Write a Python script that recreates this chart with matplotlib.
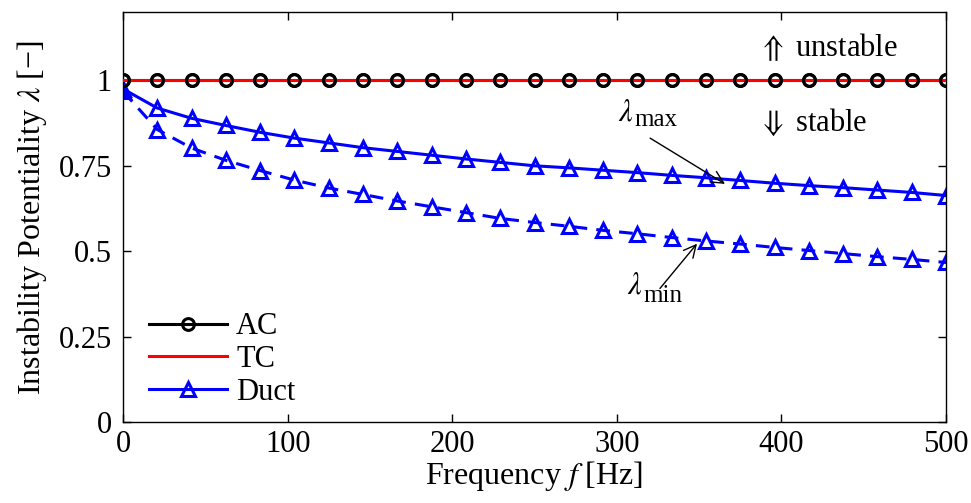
import numpy as np
import matplotlib
matplotlib.use("Agg")
import matplotlib.pyplot as plt
from matplotlib.ticker import FixedLocator, FixedFormatter

plt.rcParams['font.family'] = ['Liberation Serif', 'DejaVu Serif']
plt.rcParams['mathtext.fontset'] = 'stix'
plt.rcParams['font.size'] = 22

# Frequency grid [Hz]
freq = np.linspace(0, 500, 25)

# Instability potentiality per element
ac = [1.0] * 25
tc = [1.0] * 25
duct_max = [0.975, 0.919, 0.889, 0.868, 0.848, 0.831, 0.817, 0.803, 0.792,
            0.781, 0.770, 0.760, 0.750, 0.744, 0.737, 0.730, 0.722, 0.715,
            0.707, 0.699, 0.692, 0.686, 0.679, 0.672, 0.663]
duct_min = [0.968, 0.856, 0.802, 0.766, 0.736, 0.708, 0.685, 0.666, 0.647,
            0.630, 0.613, 0.596, 0.584, 0.573, 0.561, 0.551, 0.540, 0.530,
            0.521, 0.511, 0.502, 0.493, 0.484, 0.476, 0.467]

xticks = [0, 100, 200, 300, 400, 500]
yticks = [0, 0.25, 0.5, 0.75, 1]
ytick_labels = ['0', '0.25', '0.5', '0.75', '1']

fig = plt.figure(figsize=(9.71, 5.03), dpi=100)
ax = fig.add_axes([0.1267, 0.161, 0.8476, 0.815])

lw = 2.2
h_ac, = ax.plot(freq, ac, color='black', lw=lw, marker='o', ms=8.5,
                mfc='none', mew=2.2, label='AC', zorder=2)
h_tc, = ax.plot(freq, tc, color='red', lw=lw, label='TC', zorder=3)
ax.plot(freq, ac, ls='none', marker='o', ms=8.5, mfc='none', mec='black',
        mew=2.2, zorder=4)
h_duct, = ax.plot(freq, duct_max, color='blue', lw=lw, marker='^', ms=10,
                  mfc='none', mew=2.2, label='Duct', zorder=2)
ax.plot(freq, duct_min, color='blue', lw=lw, ls=(0, (4.5, 3.0)), marker='^',
        ms=10, mfc='none', mew=2.2, zorder=2)

ax.set_xlim(0, 500)
ax.set_ylim(0, 1.2)
ax.xaxis.set_major_locator(FixedLocator(xticks))
ax.yaxis.set_major_locator(FixedLocator(yticks))
ax.yaxis.set_major_formatter(FixedFormatter(ytick_labels))
ax.tick_params(direction='in', length=6, width=1, top=True, right=True,
               labelsize=22)
ax.tick_params(axis='y', pad=8)
ax.tick_params(axis='x', pad=6)
for s in ax.spines.values():
    s.set_linewidth(1.0)

ax.set_xlabel('Frequency $f$ [Hz]', fontsize=23, labelpad=0)
ax.set_ylabel('Instability Potentiality $\\lambda$ [\u2212]', fontsize=23,
              labelpad=7)

ax.text(386, 1.098, '$\\Uparrow$ unstable', fontsize=22, ha='left',
        va='center')
ax.text(386, 0.878, '$\\Downarrow$ stable', fontsize=22, ha='left',
        va='center')

# lambda_max label with arrow to the solid curve
ax.text(305.6, 0.904, '$\\lambda$', fontsize=22, ha='center', va='center')
ax.text(311, 0.866, 'max', fontsize=18, ha='left', va='baseline')
ax.annotate('', xy=(365.7, 0.697), xytext=(320.2, 0.831),
            arrowprops=dict(arrowstyle='->', color='black', lw=1.0,
                            shrinkA=0, shrinkB=0))

# lambda_min label with arrow to the dashed curve
ax.text(311, 0.399, '$\\lambda$', fontsize=22, ha='center', va='center')
ax.text(316, 0.350, 'min', fontsize=18, ha='left', va='baseline')
ax.annotate('', xy=(348.7, 0.522), xytext=(326.2, 0.391),
            arrowprops=dict(arrowstyle='->', color='black', lw=1.0,
                            shrinkA=0, shrinkB=0))

ax.legend(handles=[h_ac, h_tc, h_duct], loc='lower left',
          bbox_to_anchor=(0.013, 0.0), frameon=False, fontsize=22,
          handlelength=2.55, handletextpad=0.3, labelspacing=0.12,
          borderaxespad=0.1)

fig.savefig('out.png', dpi=100)
